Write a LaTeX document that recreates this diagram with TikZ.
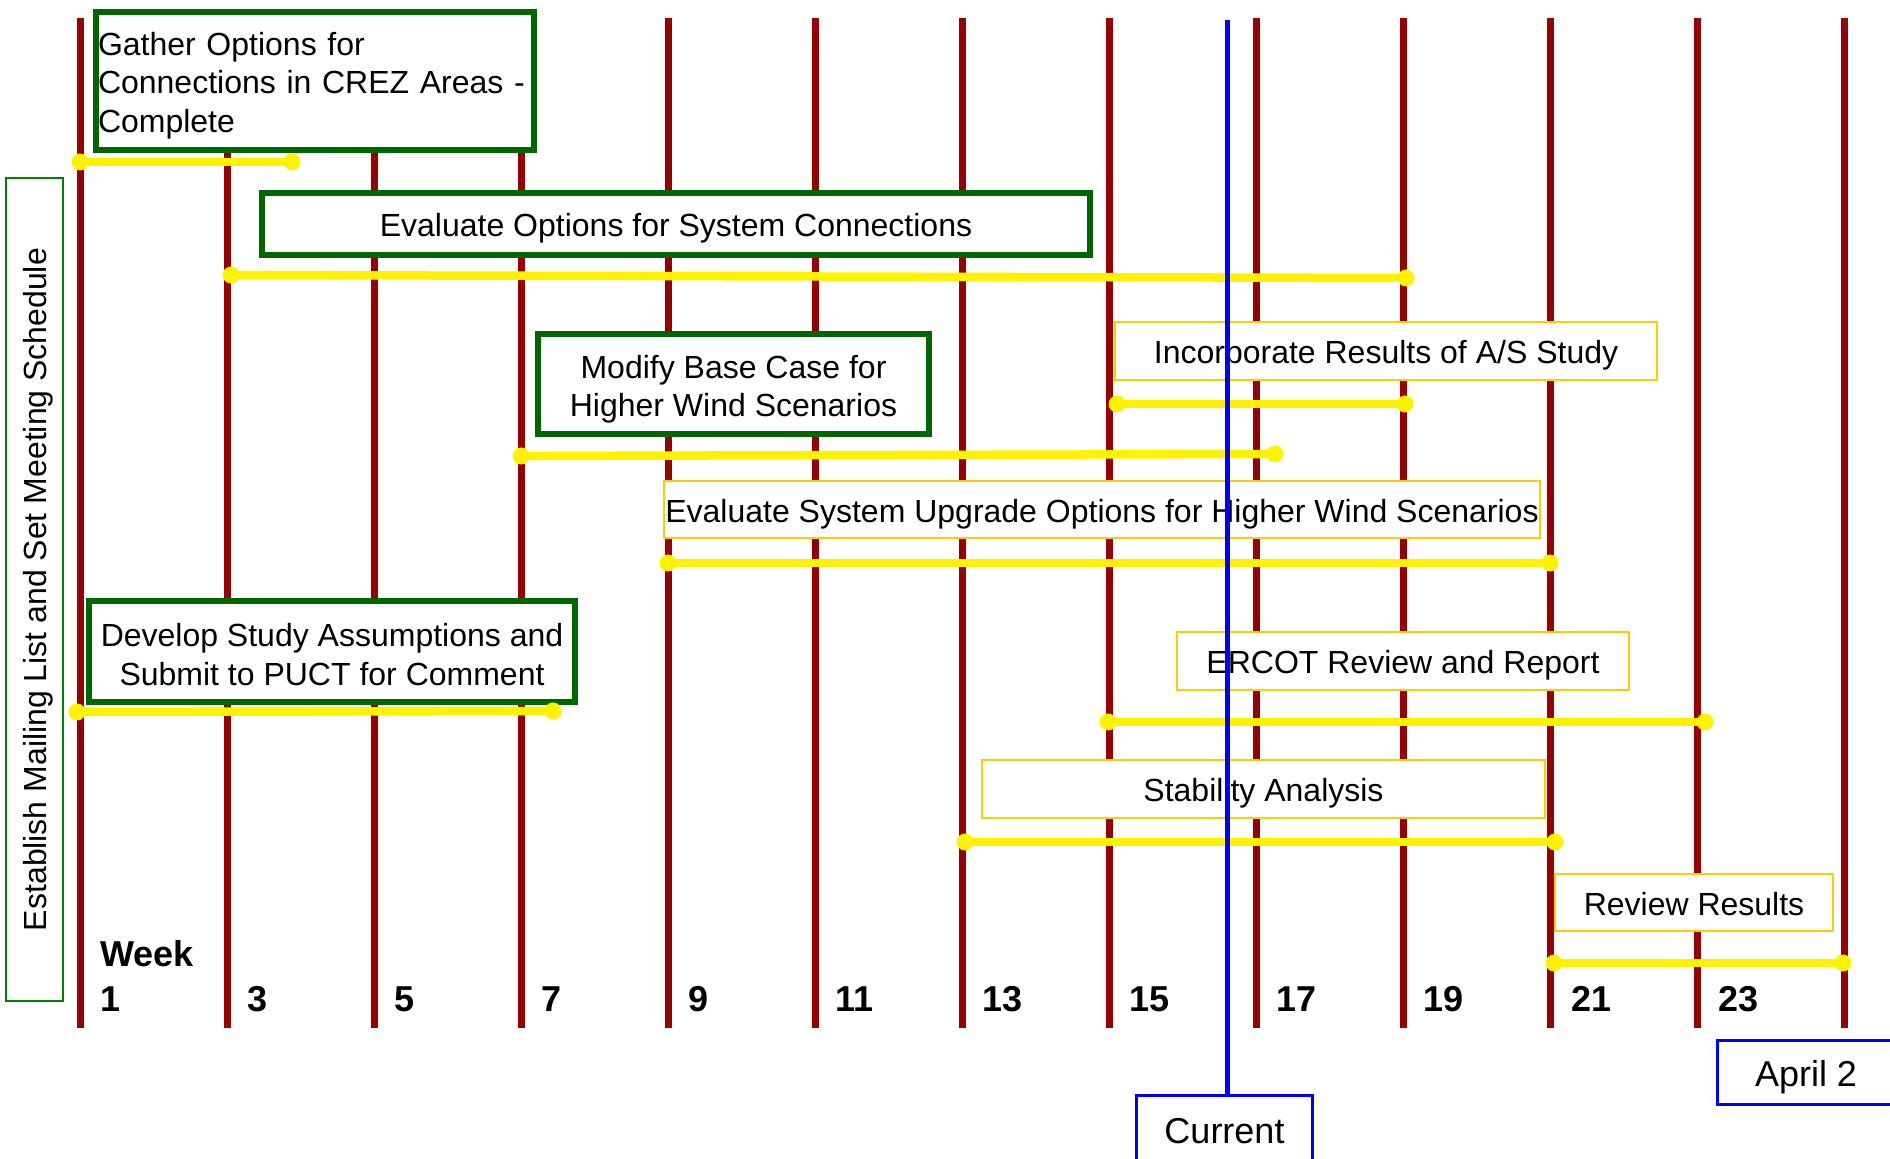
\documentclass[tikz,border=0pt]{standalone}
\usepackage{fontspec}
\setmainfont{Liberation Sans}
\definecolor{wkred}{RGB}{153,0,0}
\definecolor{dkgreen}{RGB}{0,102,0}
\definecolor{ltgreen}{RGB}{0,128,0}
\definecolor{gold}{RGB}{255,204,0}
\newcommand\taskfont{\fontsize{16}{19.3}\selectfont}
\newcommand\weekfont{\fontsize{18}{21}\selectfont\bfseries}
\newcommand\tagfont{\fontsize{18}{21}\selectfont}
\newcommand\toppad[1]{\rule{0pt}{#1}}
\tikzset{
  wkline/.style={draw=wkred, line width=3.5pt},
  gbox/.style={draw=dkgreen, line width=3pt, fill=white, inner sep=0pt, align=center, font=\taskfont},
  obox/.style={draw=gold, line width=1pt, fill=white, inner sep=0pt, font=\taskfont},
  oneline/.style={text height=13pt, text depth=0pt},
  bbox/.style={draw=blue, line width=1.5pt, fill=white, inner sep=0pt, font=\tagfont, text height=14pt, text depth=0pt},
  bar/.style={draw=yellow, line width=4.25pt},
  dot/.style={fill=yellow},
  lbl/.style={font=\weekfont, anchor=base west, inner sep=0pt},
}
\begin{document}
\begin{tikzpicture}[x=0.5pt,y=-0.5pt]
\path[use as bounding box, clip] (0,0) rectangle (1890,1159);
\fill[white] (0,0) rectangle (1890,1159);

% week grid lines
\foreach \k in {0,...,12}
  \draw[wkline] ({80+147.06*\k},18) -- ({80+147.06*\k},1028);

% week labels
\node[lbl] (week) at (100,966) {Week};
\foreach \k [evaluate=\k as \n using {int(2*\k+1)}] in {0,...,11}
  \node[lbl] (w\k) at ({100+147.06*\k},1011) {\n};

% task boxes
\node[gbox, minimum width=219pt, minimum height=69pt, text width=217pt, align=left] (gather) at (315,81)
  {\toppad{16pt}Gather Options for\\Connections in CREZ Areas -\\Complete};
\node[gbox, oneline, minimum width=414pt, minimum height=31pt] (evalopt) at (676,224)
  {Evaluate Options for System Connections};
\node[gbox, minimum width=195.5pt, minimum height=50pt] (modify) at (733.5,384)
  {\toppad{16.7pt}Modify Base Case for\\Higher Wind Scenarios};
\node[gbox, minimum width=242.75pt, minimum height=50.5pt] (develop) at (332,651.5)
  {\toppad{14.6pt}Develop Study Assumptions and\\Submit to PUCT for Comment};
\node[obox, oneline, minimum width=271pt, minimum height=29pt] (incorp) at (1386,351)
  {Incorporate Results of A/S Study};
\node[obox, oneline, minimum width=438pt, minimum height=28.5pt] (evalsys) at (1102,509.5)
  {Evaluate System Upgrade Options for Higher Wind Scenarios};
\node[obox, oneline, minimum width=225.75pt, minimum height=29pt] (ercot) at (1403,661)
  {ERCOT Review and Report};
\node[obox, oneline, minimum width=281.5pt, minimum height=29pt] (stab) at (1263.5,789)
  {Stability Analysis};
\node[obox, oneline, minimum width=139pt, minimum height=28.5pt] (review) at (1694,902.5)
  {Review Results};
\node[draw=ltgreen, line width=1pt, fill=white, inner sep=0pt, font=\taskfont,
      rotate=90, minimum width=411.5pt, minimum height=28.5pt, text height=12pt, text depth=0pt] (establish) at (34.5,589.5)
  {Establish Mailing List and Set Meeting Schedule};

% duration bars
\coordinate (g1) at (80,162);    \coordinate (g2) at (292,162);
\coordinate (e1) at (231,275);   \coordinate (e2) at (1406,278);
\coordinate (i1) at (1117,404);  \coordinate (i2) at (1405,404);
\coordinate (m1) at (521,456);   \coordinate (m2) at (1275,454);
\coordinate (s1) at (668,563);   \coordinate (s2) at (1550,563);
\coordinate (d1) at (77,712);    \coordinate (d2) at (553,711);
\coordinate (r1) at (1108,722);  \coordinate (r2) at (1705,722);
\coordinate (a1) at (965,842);   \coordinate (a2) at (1555,842);
\coordinate (v1) at (1554,963);  \coordinate (v2) at (1843,963);
\foreach \p in {g,e,i,m,s,d,r,a,v}{
  \draw[bar] (\p1) -- (\p2);
  \fill[dot] (\p1) circle[radius=4.25pt] (\p2) circle[radius=4.25pt];
}

% current marker
\node[bbox, minimum width=88pt, minimum height=33.5pt] (current) at (1224.5,1129) {Current};
\node[bbox, minimum width=88.5pt, minimum height=32pt] (april) at (1806,1072.5) {April 2};
\coordinate (curtop) at (1227,20);
\draw[blue, line width=2.5pt] (curtop) -- (curtop |- current.north);
\end{tikzpicture}
\end{document}
